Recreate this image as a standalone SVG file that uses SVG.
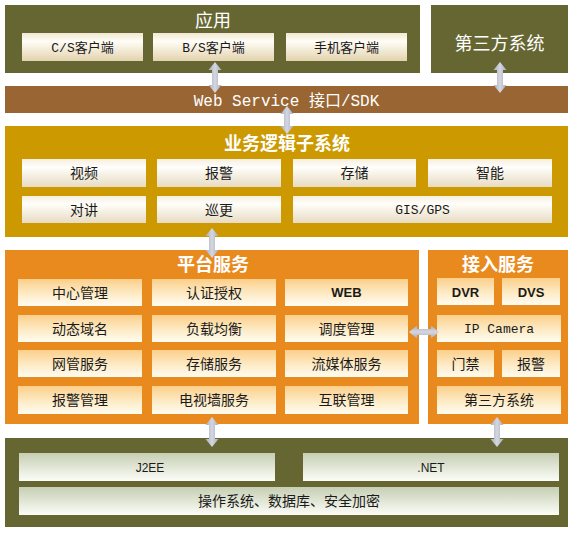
<svg xmlns="http://www.w3.org/2000/svg" width="577" height="537" viewBox="0 0 577 537">
<defs>
<linearGradient id="gCream" x1="0" y1="0" x2="0" y2="1">
<stop offset="0" stop-color="#f1e8d2"/><stop offset="0.3" stop-color="#fffdf6"/><stop offset="1" stop-color="#e3d3ae"/>
</linearGradient>
<linearGradient id="gGold" x1="0" y1="0" x2="0" y2="1">
<stop offset="0" stop-color="#f6efe0"/><stop offset="0.3" stop-color="#fffefa"/><stop offset="1" stop-color="#e7dbc2"/>
</linearGradient>
<linearGradient id="gOrange" x1="0" y1="0" x2="0" y2="1">
<stop offset="0" stop-color="#fbcf8a"/><stop offset="0.55" stop-color="#fdebc6"/><stop offset="1" stop-color="#fffcf0"/>
</linearGradient>
<linearGradient id="gGreen" x1="0" y1="0" x2="0" y2="1">
<stop offset="0" stop-color="#c6ceb3"/><stop offset="1" stop-color="#fcfdf7"/>
</linearGradient>
<linearGradient id="gArrowV" x1="0" y1="0" x2="1" y2="0">
<stop offset="0" stop-color="#a9adbd"/><stop offset="0.5" stop-color="#d4d7e0"/><stop offset="1" stop-color="#a9adbd"/>
</linearGradient>
<linearGradient id="gArrowH" x1="0" y1="0" x2="0" y2="1">
<stop offset="0" stop-color="#a9adbd"/><stop offset="0.5" stop-color="#d4d7e0"/><stop offset="1" stop-color="#a9adbd"/>
</linearGradient>
</defs>
<style>
.olive{fill:#666633}
.brown{fill:#996633}
.gold{fill:#cc9900}
.orange{fill:#e98a1f}
.bc{fill:url(#gCream)}
.bg{fill:url(#gGold)}
.bo{fill:url(#gOrange)}
.bb{fill:url(#gGreen)}
.title{font-family:"Noto Sans CJK SC","Liberation Sans",sans-serif;font-size:18px;font-weight:bold;fill:#ffffff;text-anchor:middle}
.t{font-family:"Liberation Mono","Noto Sans CJK SC",monospace;font-size:13px;fill:#1a1a1a;text-anchor:middle}
.t14{font-family:"Noto Sans CJK SC","Liberation Sans",sans-serif;font-size:14px;fill:#1a1a1a;text-anchor:middle}
.tb{font-family:"Liberation Sans","Noto Sans CJK SC",sans-serif;font-size:13px;font-weight:bold;fill:#1a1a1a;text-anchor:middle}
.tn{font-family:"Liberation Sans",sans-serif;font-size:12px;fill:#1a1a1a;text-anchor:middle}
.av{fill:url(#gArrowV)}
.ah{fill:url(#gArrowH)}
</style>

<g id="app">
<rect class="olive" x="5" y="5" width="415" height="68"/>
<text class="title" x="213" y="27" style="font-weight:normal">应用</text>
<rect class="bc" x="22" y="33" width="121" height="28"/>
<text class="t" x="82.5" y="52">C/S客户端</text>
<rect class="bc" x="153" y="33" width="121" height="28"/>
<text class="t" x="213.5" y="52">B/S客户端</text>
<rect class="bc" x="286" y="33" width="121" height="28"/>
<text class="t" x="346.5" y="52">手机客户端</text>
</g>

<g id="third-party">
<rect class="olive" x="431" y="5" width="137" height="68"/>
<text x="499.5" y="50" style="font-family:'Noto Sans CJK SC',sans-serif;font-size:18px;fill:#ffffff;text-anchor:middle">第三方系统</text>
</g>

<g id="webservice">
<rect class="brown" x="5" y="86" width="563" height="27"/>
<text x="286.5" y="105.5" style="font-family:'Liberation Mono','Noto Sans CJK SC',monospace;font-size:16px;fill:#ffffff;text-anchor:middle">Web Service 接口/SDK</text>
</g>

<g id="business">
<rect class="gold" x="5" y="126" width="563" height="111"/>
<text class="title" x="287" y="150">业务逻辑子系统</text>
<rect class="bg" x="22" y="159" width="124" height="28"/>
<text class="t14" x="84" y="178">视频</text>
<rect class="bg" x="157" y="159" width="124" height="28"/>
<text class="t14" x="219" y="178">报警</text>
<rect class="bg" x="293" y="159" width="123" height="28"/>
<text class="t14" x="354.5" y="178">存储</text>
<rect class="bg" x="428" y="159" width="124" height="28"/>
<text class="t14" x="490" y="178">智能</text>
<rect class="bg" x="22" y="196" width="124" height="27"/>
<text class="t14" x="84" y="214.5">对讲</text>
<rect class="bg" x="157" y="196" width="124" height="27"/>
<text class="t14" x="219" y="214.5">巡更</text>
<rect class="bg" x="293" y="196" width="259" height="27"/>
<text class="t" x="422.5" y="214">GIS/GPS</text>
</g>

<g id="platform">
<rect class="orange" x="5" y="250" width="414" height="174"/>
<text class="title" x="213" y="271">平台服务</text>
<rect class="bo" x="18" y="279" width="124" height="27"/>
<text class="t14" x="80" y="297.5">中心管理</text>
<rect class="bo" x="152" y="279" width="124" height="27"/>
<text class="t14" x="214" y="297.5">认证授权</text>
<rect class="bo" x="285" y="279" width="123" height="27"/>
<text class="tb" x="346.5" y="297">WEB</text>
<rect class="bo" x="18" y="315" width="124" height="27"/>
<text class="t14" x="80" y="333.5">动态域名</text>
<rect class="bo" x="152" y="315" width="124" height="27"/>
<text class="t14" x="214" y="333.5">负载均衡</text>
<rect class="bo" x="285" y="315" width="123" height="27"/>
<text class="t14" x="346.5" y="333.5">调度管理</text>
<rect class="bo" x="18" y="350" width="124" height="27"/>
<text class="t14" x="80" y="368.5">网管服务</text>
<rect class="bo" x="152" y="350" width="124" height="27"/>
<text class="t14" x="214" y="368.5">存储服务</text>
<rect class="bo" x="285" y="350" width="123" height="27"/>
<text class="t14" x="346.5" y="368.5">流媒体服务</text>
<rect class="bo" x="18" y="386" width="124" height="28"/>
<text class="t14" x="80" y="405">报警管理</text>
<rect class="bo" x="152" y="386" width="124" height="28"/>
<text class="t14" x="214" y="405">电视墙服务</text>
<rect class="bo" x="285" y="386" width="123" height="28"/>
<text class="t14" x="346.5" y="405">互联管理</text>
</g>

<g id="access">
<rect class="orange" x="428" y="250" width="140" height="174"/>
<text class="title" x="498" y="271">接入服务</text>
<rect class="bo" x="437" y="278" width="57" height="27"/>
<text class="tb" x="465.5" y="296.5">DVR</text>
<rect class="bo" x="502" y="278" width="58" height="27"/>
<text class="tb" x="531" y="296.5">DVS</text>
<rect class="bo" x="437" y="315" width="124" height="27"/>
<text class="t" x="499" y="333">IP Camera</text>
<rect class="bo" x="437" y="350" width="57" height="27"/>
<text class="t14" x="465.5" y="368.5">门禁</text>
<rect class="bo" x="502" y="350" width="58" height="27"/>
<text class="t14" x="531" y="368.5">报警</text>
<rect class="bo" x="437" y="386" width="124" height="28"/>
<text class="t14" x="499" y="405">第三方系统</text>
</g>

<g id="foundation">
<rect class="olive" x="5" y="438" width="563" height="89"/>
<rect class="bb" x="19" y="453" width="256" height="28"/>
<text class="tn" x="150" y="471.5">J2EE</text>
<rect class="bb" x="303" y="453" width="256" height="28"/>
<text class="tn" x="431" y="471.5">.NET</text>
<rect class="bb" x="19" y="487" width="540" height="28"/>
<text class="t14" x="289" y="506">操作系统、数据库、安全加密</text>
</g>

<g id="connectors">
<path class="av" d="M215,62 l6.5,8 h-3.5 v15 h3.5 l-6.5,8 l-6.5,-8 h3.5 v-15 h-3.5 z"/>
<path class="av" d="M500,62 l6.5,8 h-3.5 v15 h3.5 l-6.5,8 l-6.5,-8 h3.5 v-15 h-3.5 z"/>
<path class="av" d="M287,106 l6.5,8 h-3.5 v12 h3.5 l-6.5,8 l-6.5,-8 h3.5 v-12 h-3.5 z"/>
<path class="av" d="M212,228 l6.5,8 h-3.5 v14 h3.5 l-6.5,8 l-6.5,-8 h3.5 v-14 h-3.5 z"/>
<path class="av" d="M212,417 l6.5,8 h-3.5 v14 h3.5 l-6.5,8 l-6.5,-8 h3.5 v-14 h-3.5 z"/>
<path class="av" d="M497,417 l6.5,8 h-3.5 v14 h3.5 l-6.5,8 l-6.5,-8 h3.5 v-14 h-3.5 z"/>
<path class="ah" d="M409,332 l8,-6.5 v3.5 h14 v-3.5 l8,6.5 l-8,6.5 v-3.5 h-14 v3.5 z"/>
</g>
</svg>
